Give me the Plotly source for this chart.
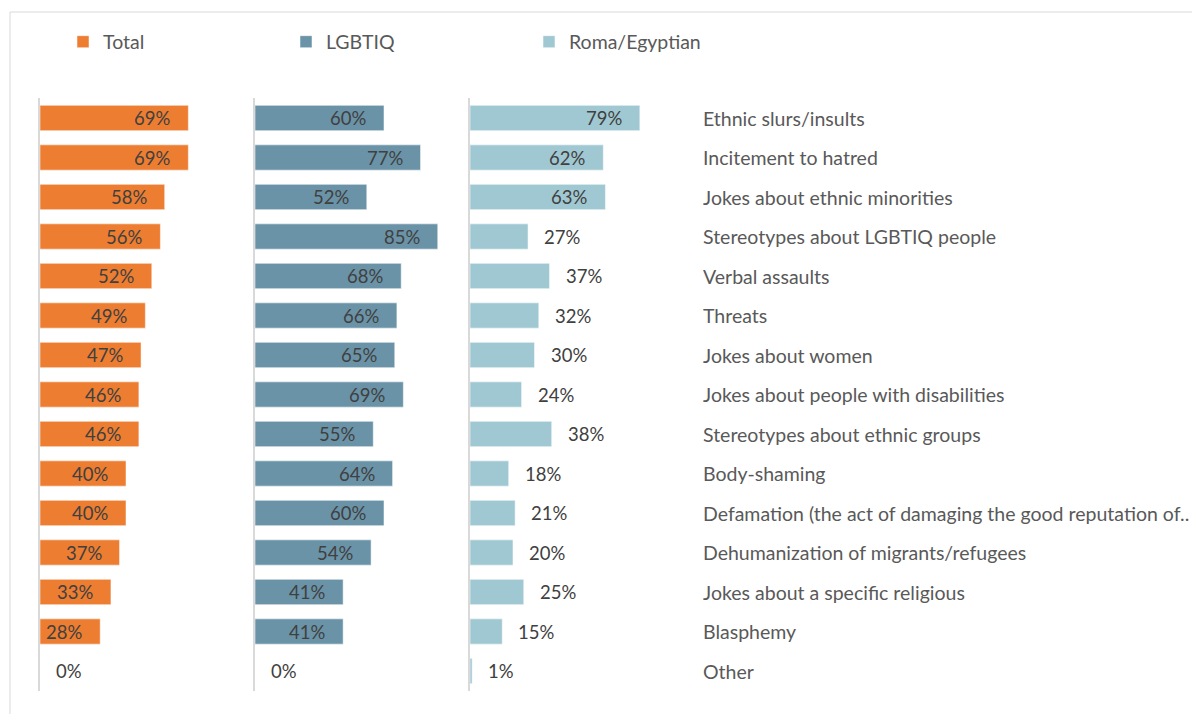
import plotly.graph_objects as go

categories = [
    "Ethnic slurs/insults",
    "Incitement to hatred",
    "Jokes about ethnic minorities",
    "Stereotypes about LGBTIQ people",
    "Verbal assaults",
    "Threats",
    "Jokes about women",
    "Jokes about people with disabilities",
    "Stereotypes about ethnic groups",
    "Body-shaming",
    "Defamation (the act of damaging the good reputation of..",
    "Dehumanization of migrants/refugees",
    "Jokes about a specific religious",
    "Blasphemy",
    "Other",
]
total = [69, 69, 58, 56, 52, 49, 47, 46, 46, 40, 40, 37, 33, 28, 0]
lgbtiq = [60, 77, 52, 85, 68, 66, 65, 69, 55, 64, 60, 54, 41, 41, 0]
roma = [79, 62, 63, 27, 37, 32, 30, 24, 38, 18, 21, 20, 25, 15, 1]
series_names = ["Total", "LGBTIQ", "Roma/Egyptian"]

W, H = 1200, 714
OFF = 8  # page body margin compensation
colors = ["#ED7D31", "#6A93A8", "#A0C8D2"]
FONT = "Lato"
LABEL_COLOR = "#404040"
CAT_COLOR = "#595959"

panel_px = [(40, 255), (255, 470), (470, 685)]
y_top_px, y_bot_px = 98.25, 690.75
ydom = [1 - (y_bot_px - OFF) / H, 1 - (y_top_px - OFF) / H]

fig = go.Figure()
series = [total, lgbtiq, roma]
# inside-end labels unless the value is below this threshold
inside_min = [1, 1, 50]
legend_x_px = [63, 286, 529]

for i, (name, vals) in enumerate(zip(series_names, series)):
    xa = "x" if i == 0 else f"x{i+1}"
    ya = "y" if i == 0 else f"y{i+1}"
    leg = "legend" if i == 0 else f"legend{i+1}"
    fig.add_trace(go.Bar(
        x=vals, y=categories, orientation="h", name=name,
        marker=dict(color=colors[i], line=dict(color="rgba(255,255,255,0.5)", width=1)),
        xaxis=xa, yaxis=ya, legend=leg, showlegend=True, hoverinfo="x+y",
    ))
    for c, v in zip(categories, vals):
        inside = v >= inside_min[i]
        fig.add_annotation(
            x=v, y=c, xref=xa, yref=ya, text=f"{v}%", showarrow=False,
            xanchor="right" if inside else "left",
            xshift=-16 if inside else 14,
            font=dict(family=FONT, size=18.5, color=LABEL_COLOR),
        )

layout = dict(
    width=W, height=H, margin=dict(l=0, r=0, t=0, b=0),
    paper_bgcolor="white", plot_bgcolor="white",
    bargap=0.36, showlegend=True,
    font=dict(family=FONT, color=CAT_COLOR),
)
for i, (x0, x1) in enumerate(panel_px):
    sfx = "" if i == 0 else str(i + 1)
    layout[f"xaxis{sfx}"] = dict(
        domain=[(x0 - OFF) / W, (x1 - OFF) / W], range=[0, 100], visible=False,
        anchor=f"y{sfx}", fixedrange=True,
    )
    layout[f"yaxis{sfx}"] = dict(
        domain=ydom, anchor=f"x{sfx}", autorange="reversed",
        showticklabels=False, ticks="", showgrid=False, zeroline=False,
        showline=True, linecolor="#D9D9D9", linewidth=2,
        type="category",
    )
    if i > 0:
        layout[f"yaxis{sfx}"]["matches"] = "y"
    leg = "legend" if i == 0 else f"legend{i+1}"
    layout[leg] = dict(
        x=(legend_x_px[i] - OFF) / W, y=1 - (42 - OFF) / H,
        xanchor="left", yanchor="middle",
        orientation="h", bgcolor="rgba(0,0,0,0)", itemwidth=30,
        font=dict(family=FONT, size=19.5, color=CAT_COLOR),
    )
fig.update_layout(**layout)

for c in categories:
    fig.add_annotation(
        x=(701 - OFF) / W, y=c, xref="paper", yref="y", text=c, showarrow=False,
        xanchor="left", font=dict(family=FONT, size=19.5, color=CAT_COLOR),
    )

fig.add_shape(type="rect", xref="paper", yref="paper",
              x0=(10 - OFF) / W, x1=1.05, y0=-0.05, y1=1 - (12 - OFF) / H,
              line=dict(color="#D9D9D9", width=1), layer="below")

fig.write_html("out.html")
